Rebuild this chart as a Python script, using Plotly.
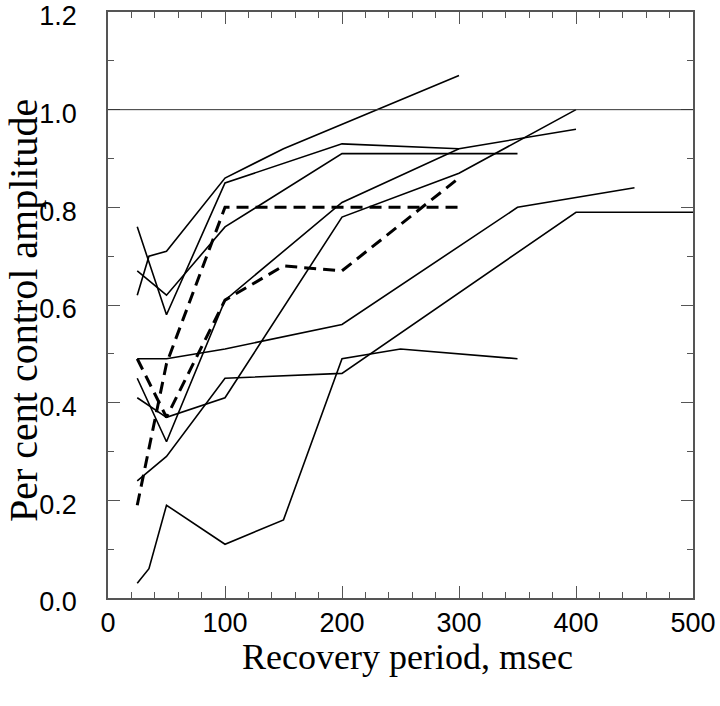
import plotly.graph_objects as go

# Solid recordings: (x values in msec, y values as fraction of control)
a_x = [25, 35, 50, 100, 150, 300]
a_y = [0.62, 0.70, 0.71, 0.86, 0.92, 1.07]

b_x = [25, 50, 100, 200, 300]
b_y = [0.76, 0.58, 0.85, 0.93, 0.92]

c_x = [25, 50, 100, 200, 350]
c_y = [0.67, 0.62, 0.76, 0.91, 0.91]

e_x = [25, 50, 100, 200, 350, 450]
e_y = [0.49, 0.49, 0.51, 0.56, 0.80, 0.84]

f_x = [25, 50, 100, 200, 300, 400]
f_y = [0.45, 0.32, 0.61, 0.81, 0.92, 0.96]

g_x = [25, 35, 50, 100, 150, 200, 250, 350]
g_y = [0.03, 0.06, 0.19, 0.11, 0.16, 0.49, 0.51, 0.49]

h_x = [25, 50, 100, 200, 300, 400]
h_y = [0.41, 0.37, 0.41, 0.78, 0.87, 1.00]

i_x = [25, 50, 100, 200, 400, 500]
i_y = [0.24, 0.29, 0.45, 0.46, 0.79, 0.79]

# Dashed recordings
d1_x = [25, 50, 100, 300]
d1_y = [0.19, 0.48, 0.80, 0.80]

d2_x = [25, 50, 100, 150, 200, 300]
d2_y = [0.49, 0.37, 0.61, 0.68, 0.67, 0.86]

solid = [(a_x, a_y), (b_x, b_y), (c_x, c_y), (e_x, e_y), (f_x, f_y),
         (g_x, g_y), (h_x, h_y), (i_x, i_y)]
dashed = [(d1_x, d1_y), (d2_x, d2_y)]

x_ticks = [0, 100, 200, 300, 400, 500]
y_ticks = [0.0, 0.2, 0.4, 0.6, 0.8, 1.0, 1.2]
ref_level = 1.0
x_title = "Recovery period, msec"
y_title = "Per cent control amplitude"

fig = go.Figure()
for xs, ys in solid:
    fig.add_trace(go.Scatter(x=xs, y=ys, mode="lines",
                             line=dict(color="black", width=1.6),
                             showlegend=False, hoverinfo="skip"))
for xs, ys in dashed:
    fig.add_trace(go.Scatter(x=xs, y=ys, mode="lines",
                             line=dict(color="black", width=3, dash="12px,7px"),
                             showlegend=False, hoverinfo="skip"))

fig.add_hline(y=ref_level, line=dict(color="#333", width=1))

axis_common = dict(
    showline=True, mirror="ticks", linecolor="#555", linewidth=1.5,
    ticks="inside", ticklen=12, tickwidth=1.2, tickcolor="#555",
    showgrid=False, zeroline=False, automargin=False,
    ticklabeloverflow="allow",
)

fig.update_xaxes(
    range=[0, 500], tickvals=x_ticks, ticktext=[str(v) for v in x_ticks],
    tickfont=dict(family="Liberation Sans", size=27, color="black"),
    minor=dict(ticks="inside", dtick=20, ticklen=6, tickcolor="#555", tickwidth=1),
    ticklabelstandoff=0,
    **axis_common,
)
fig.update_yaxes(
    range=[0, 1.2], tickvals=y_ticks, ticktext=[f"{v:.1f}" for v in y_ticks],
    tickfont=dict(family="Liberation Sans", size=27, color="black"),
    minor=dict(ticks="inside", dtick=0.1, ticklen=6, tickcolor="#555", tickwidth=1),
    ticklabelstandoff=24,
    ticklabelshift=4,
    **axis_common,
)

fig.add_annotation(text=x_title, xref="paper", yref="paper",
                   x=0.5128, y=-0.1007, xanchor="center", yanchor="middle",
                   showarrow=False,
                   font=dict(family="Liberation Serif", size=36, color="black"))
fig.add_annotation(text=y_title, xref="paper", yref="paper",
                   x=-0.1436, y=0.4915, xanchor="center", yanchor="middle",
                   textangle=-90, showarrow=False,
                   font=dict(family="Liberation Serif", size=40, color="black"))

fig.update_layout(
    width=720, height=706,
    margin=dict(l=108, r=27, t=12, b=108),
    plot_bgcolor="white", paper_bgcolor="white",
)

fig.write_html(
    "out.html",
    config={"displayModeBar": False},
    post_script="document.body.style.margin='0';document.body.style.overflow='hidden';",
)
